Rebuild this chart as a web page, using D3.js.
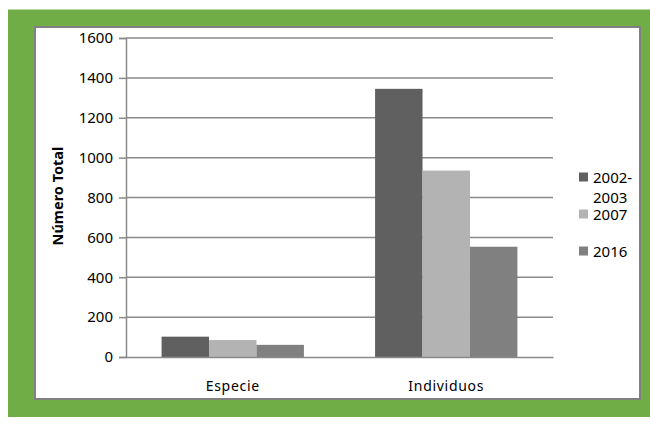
<!DOCTYPE html>
<html>
<head>
<meta charset="utf-8">
<script src="https://cdn.jsdelivr.net/npm/d3@7"></script>
<style>
  body { margin: 0; background: #fff; }
  svg { display: block; font-family: "Noto Sans", "Open Sans", sans-serif; }
</style>
</head>
<body>
<div id="viz"></div>
<script>
// Chart data
const categories = ['Especie', 'Individuos'];
const seriesNames = ['2002-2003', '2007', '2016'];
const seriesColors = ['#606060', '#b3b3b3', '#808080'];
const values2002 = [102, 1345];
const values2007 = [85, 935];
const values2016 = [61, 553];
const yTicks = [0, 200, 400, 600, 800, 1000, 1200, 1400, 1600];

const seriesValues = [values2002, values2007, values2016];

const width = 650;
const height = 425;

const plot = { left: 126, right: 553, top: 38, bottom: 357 };

const svg = d3.select('#viz')
    .append('svg')
    .attr('width', width)
    .attr('height', height);

// green frame + white inner panel
svg.append('rect')
    .attr('x', 8).attr('y', 9.5)
    .attr('width', width - 8).attr('height', 407.5)
    .attr('fill', '#70ad47');
svg.append('rect')
    .attr('x', 35).attr('y', 27)
    .attr('width', 605).attr('height', 372)
    .attr('fill', '#ffffff')
    .attr('stroke', '#808080')
    .attr('stroke-width', 2);

const xScale = d3.scaleBand()
    .domain(categories)
    .range([plot.left, plot.right])
    .paddingInner(0)
    .paddingOuter(0);

// Excel style: gap width 150% of a bar
const barW = xScale.bandwidth() / (seriesNames.length + 1.5);
const x1 = d3.scaleBand()
    .domain(seriesNames)
    .range([0, barW * seriesNames.length]);

const yScale = d3.scaleLinear()
    .domain([0, 1600])
    .range([plot.bottom, plot.top]);

// gridlines
svg.append('g')
    .selectAll('line')
    .data(yTicks.filter(d => d > 0))
    .enter()
    .append('line')
    .attr('x1', plot.left)
    .attr('x2', plot.right)
    .attr('y1', d => yScale(d))
    .attr('y2', d => yScale(d))
    .attr('stroke', '#8a8a8a')
    .attr('stroke-width', 1.5);

// bars
const groups = svg.append('g')
    .selectAll('g')
    .data(categories)
    .enter()
    .append('g')
    .attr('transform', d => `translate(${xScale(d) + barW * 0.75},0)`);

groups.selectAll('rect')
    .data((d, ci) => seriesNames.map((s, si) => ({ s, si, v: seriesValues[si][ci] })))
    .enter()
    .append('rect')
    .attr('x', d => x1(d.s))
    .attr('y', d => yScale(d.v))
    .attr('width', x1.bandwidth())
    .attr('height', d => yScale(0) - yScale(d.v))
    .attr('fill', d => seriesColors[d.si]);

// y axis
const yAxis = svg.append('g')
    .attr('transform', `translate(${plot.left},0)`)
    .call(d3.axisLeft(yScale).tickValues(yTicks).tickFormat(d3.format('d')).tickSize(7).tickPadding(6));
yAxis.select('.domain').attr('stroke', '#8a8a8a').attr('stroke-width', 1.5);
yAxis.selectAll('.tick line').attr('stroke', '#8a8a8a').attr('stroke-width', 1.5);
yAxis.selectAll('text')
    .style('font-size', '15px')
    .style('font-family', '"Noto Sans", sans-serif')
    .attr('fill', '#000');

// x axis baseline + labels
const xAxis = svg.append('g')
    .attr('transform', `translate(0,${plot.bottom})`)
    .call(d3.axisBottom(xScale).tickSize(0).tickPadding(24));
xAxis.select('.domain').attr('stroke', '#8a8a8a').attr('stroke-width', 1.5);
xAxis.selectAll('text')
    .style('font-size', '14px')
    .style('font-family', '"Noto Sans", sans-serif')
    .style('letter-spacing', '0.7px')
    .attr('fill', '#000');

// y title
svg.append('text')
    .attr('transform', `translate(63,196) rotate(-90)`)
    .attr('text-anchor', 'middle')
    .style('font-size', '14.5px')
    .style('font-weight', 'bold')
    .text('Número Total');

// legend
const legendRows = [
    { name: '2002-', extra: '2003', y: 177 },
    { name: '2007', y: 214 },
    { name: '2016', y: 251 }
];
const legend = svg.append('g');
legendRows.forEach((r, i) => {
    legend.append('rect')
        .attr('x', 579).attr('y', r.y - 4.5)
        .attr('width', 9).attr('height', 9)
        .attr('fill', seriesColors[i]);
    legend.append('text')
        .attr('x', 593).attr('y', r.y + 5.5)
        .style('font-size', '15px')
        .text(r.name);
    if (r.extra) {
        legend.append('text')
            .attr('x', 593).attr('y', r.y + 26)
            .style('font-size', '15px')
            .text(r.extra);
    }
});
</script>
</body>
</html>
